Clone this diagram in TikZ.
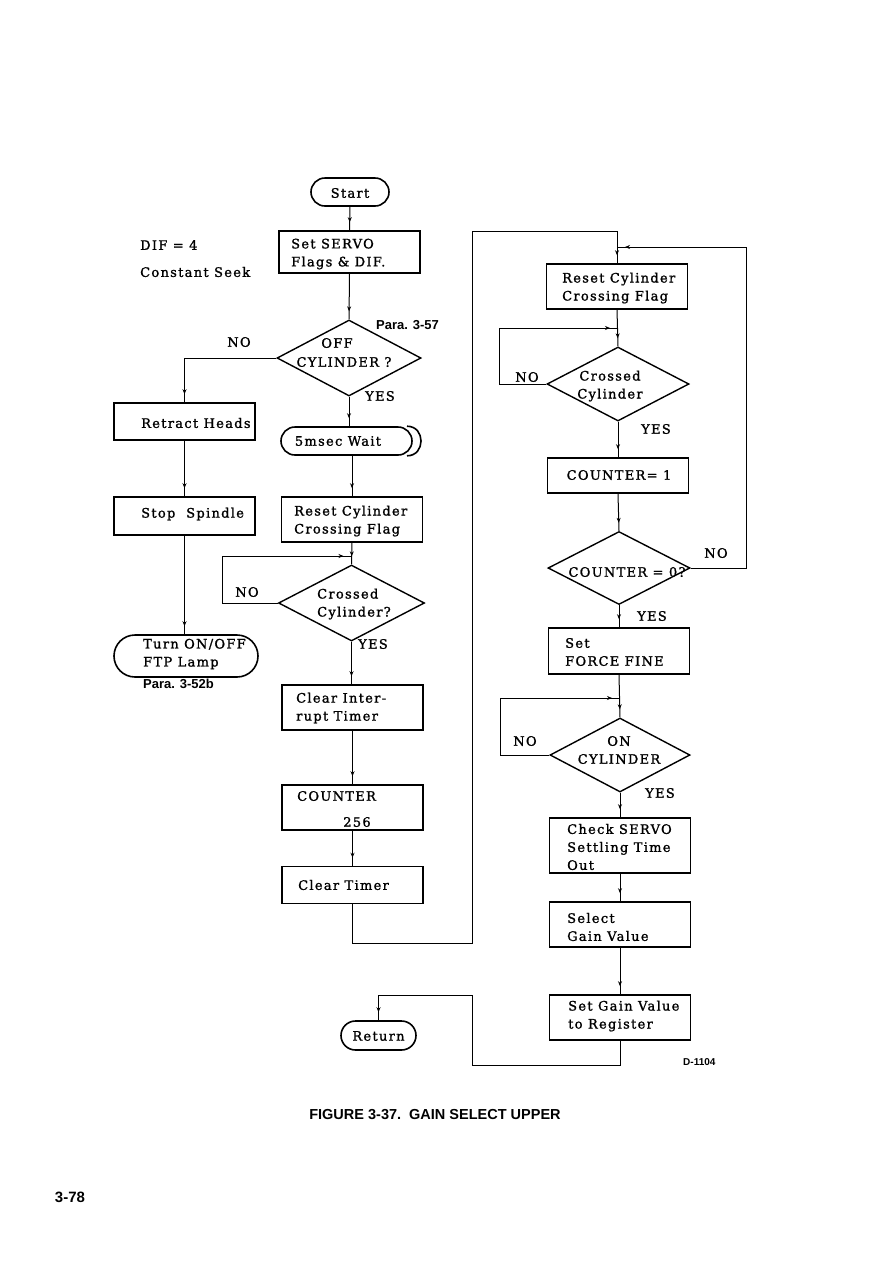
\documentclass[tikz,border=0pt]{standalone}
\usepackage{fontspec}
\setmainfont{DejaVu Serif}
\newfontfamily\bxfont[LetterSpace=10,FakeBold=1.3]{DejaVu Serif}
\newfontfamily\sansf{Liberation Sans}
\usetikzlibrary{shapes.geometric,shapes.misc,arrows.meta,decorations.markings}
\tikzset{
 bx/.style={draw, line width=1.6pt, minimum width=141pt, inner sep=0pt},
 term/.style={draw, rounded rectangle, line width=1.6pt, inner sep=0pt},
 dia/.style={draw, diamond, line width=1.4pt, inner sep=0pt},
 txt/.style={font=\bxfont\fontsize{13}{18}\selectfont, align=left, inner sep=0pt},
 ctxt/.style={txt, align=center},
 lbl/.style={font=\bxfont\fontsize{13}{16}\selectfont, inner sep=0pt},
 para/.style={font=\sansf\bfseries\fontsize{13}{15}\selectfont, inner sep=0pt},
 flow/.style={line width=1pt, postaction={decorate}, decoration={markings, mark=at position -8pt with {\arrow{Stealth[length=5pt,width=4pt]}}}},
}
\begin{document}
\begin{tikzpicture}[x=1pt,y=-1pt]
\fill[white] (0,0) rectangle (893,1262);
\useasboundingbox (0,0) rectangle (893,1262);

% ---------- left / middle column ----------
\node[term, minimum width=78pt, minimum height=28pt] (start) at (350,192) {};
\node[txt] (startt) at (350,193) {Start};
\node[bx, minimum height=42pt] (servo) at (349.5,252) {};
\node[txt, anchor=west] (servot) at (291,254) {Set SERVO\\Flags \& DIF.};
\node[txt, anchor=west] (dif) at (140,245) {DIF = 4};
\node[txt, anchor=west] (cseek) at (140,272) {Constant Seek};

\node[dia, minimum width=144pt, minimum height=76pt] (d1) at (349,358) {};
\node[txt] (d1a) at (337,343) {OFF};
\node[txt] (d1b) at (344,362) {CYLINDER ?};
\node[para, anchor=west] (para1) at (376,325) {Para. 3-57};
\node[lbl] (no1) at (239,342) {NO};
\node[lbl] (yes1) at (380,396) {YES};

\node[bx, minimum height=37pt] (retract) at (184.5,421.5) {};
\node[txt, anchor=west] (retractt) at (141,423) {Retract Heads};
\node[bx, minimum height=38pt] (stop) at (184.5,516) {};
\node[txt, anchor=west] (stopt) at (141,514) {Stop~~Spindle};
\node[term, minimum width=144pt, minimum height=42pt] (lamp) at (186,656) {};
\node[txt, anchor=west] (lampt) at (143,654) {Turn ON/OFF\\FTP Lamp};
\node[para, anchor=west] (para2) at (143,684) {Para. 3-52b};

\node[term, minimum width=131pt, minimum height=28pt] (wait) at (346.5,441) {};
\node[txt] (waitt) at (338,441) {5msec Wait};
\draw[line width=1.6pt] ([xshift=60.5pt]wait.north) .. controls +(18.7,0) and +(18.7,0) .. ([xshift=60.5pt]wait.south);

\node[bx, minimum height=45pt] (reset1) at (352,519.5) {};
\node[txt, anchor=west] (reset1t) at (294,521) {Reset Cylinder\\Crossing Flag};
\node[dia, minimum width=146pt, minimum height=76pt] (d2) at (351.5,603) {};
\node[txt, anchor=west] (d2t) at (317,604) {Crossed\\Cylinder?};
\node[lbl] (no2) at (247,592) {NO};
\node[lbl] (yes2) at (373,644) {YES};

\node[bx, minimum height=45pt] (clearint) at (352.5,707.5) {};
\node[txt, anchor=west] (clearintt) at (296,708) {Clear Inter-\\rupt Timer};
\node[bx, minimum height=45pt] (counter) at (352.5,807.5) {};
\node[txt, anchor=west] (countert) at (297,796) {COUNTER};
\node[txt] (count256) at (357,822) {256};
\node[bx, minimum height=37pt] (cleartimer) at (352.5,885) {};
\node[txt, anchor=west] (cleartimert) at (298,885) {Clear Timer};

% ---------- right column ----------
\node[bx, minimum height=45pt] (reset2) at (617,286.5) {};
\node[txt, anchor=west] (reset2t) at (562,288) {Reset Cylinder\\Crossing Flag};
\node[dia, minimum width=142pt, minimum height=74pt] (d3) at (618,384) {};
\node[ctxt] (d3t) at (610,386) {Crossed\\Cylinder};
\node[lbl] (no3) at (527,377) {NO};
\node[lbl] (yes3) at (656,429) {YES};

\node[bx, minimum height=35pt] (counter1) at (618,475.5) {};
\node[txt] (counter1t) at (619,475) {COUNTER= 1};
\node[dia, minimum width=142pt, minimum height=73pt] (d4) at (619,568) {};
\node[txt] (d4t) at (627,572) {COUNTER = 0?};
\node[lbl] (no4) at (716,553) {NO};
\node[lbl] (yes4) at (652,616) {YES};

\node[bx, minimum height=46pt] (force) at (619,651) {};
\node[txt, anchor=west] (forcet) at (565,652) {Set\\FORCE FINE};
\node[dia, minimum width=140pt, minimum height=74pt] (d5) at (620,755) {};
\node[ctxt] (d5t) at (619,750) {ON\\CYLINDER};
\node[lbl] (no5) at (525,741) {NO};
\node[lbl] (yes5) at (660,793) {YES};

\node[bx, minimum height=55pt] (check) at (620,845.5) {};
\node[txt, anchor=west] (checkt) at (567,847) {Check SERVO\\Settling Time\\Out};
\node[bx, minimum height=45pt] (select) at (620,924.5) {};
\node[txt, anchor=west] (selectt) at (567,927) {Select\\Gain Value};
\node[bx, minimum height=45pt] (setgain) at (620,1017.5) {};
\node[txt, anchor=west] (setgaint) at (568,1016) {Set Gain Value\\to Register};

\node[term, minimum width=75pt, minimum height=29pt] (ret) at (378.5,1035.5) {};
\node[txt] (rett) at (378.5,1036) {Return};

\node[font=\sansf\bfseries\fontsize{10}{12}\selectfont, anchor=west, inner sep=0pt] (dnum) at (683,1062) {D-1104};
\node[font=\sansf\bfseries\fontsize{14.5}{16}\selectfont, inner sep=0pt] (caption) at (435,1115) {FIGURE 3-37.~~GAIN SELECT UPPER};
\node[font=\sansf\bfseries\fontsize{15}{17}\selectfont, inner sep=0pt] (page) at (70,1197) {3-78};

% ---------- helper coordinates ----------
\coordinate (lp1) at (222,556);
\coordinate (lp2) at (499,328);
\coordinate (lp3) at (500,698);
\coordinate (c1) at (472,943);
\coordinate (c2) at (472,231);
\coordinate (c3) at (746,247);
\coordinate (c4) at (472,1065);
\coordinate (c5) at (472,995);

% ---------- connectors ----------
\draw[flow] (start.south) -- (servo.north);
\draw[flow] (servo.south) -- (d1.north);
\draw[flow] (d1.west) -| (retract.north);
\draw[flow] (retract.south) -- (stop.north);
\draw[flow] (stop.south) -- (stop.south |- lamp.north);
\draw[flow] (d1.south) -- (d1.south |- wait.north);
\draw[flow] (reset1.north |- wait.south) -- (reset1.north);
\draw[flow] (reset1.south) -- (d2.north);
\draw[flow] (d2.west) -| (lp1) -- (lp1 -| d2.north);
\draw[flow] (d2.south) -- (d2.south |- clearint.north);
\draw[flow] (clearint.south) -- (counter.north);
\draw[flow] (counter.south) -- (cleartimer.north);
\draw[flow] (cleartimer.south) |- (c1) -- (c2) -| (reset2.north);
\draw[flow] (d4.east) -| (c3) -- (c3 -| reset2.north);
\draw[flow] (reset2.south) -- (d3.north);
\draw[flow] (d3.west) -| (lp2) -- (lp2 -| d3.north);
\draw[flow] (d3.south) -- (counter1.north);
\draw[flow] (counter1.south) -- (d4.north);
\draw[flow] (d4.south) -- (force.north);
\draw[flow] (force.south) -- (d5.north);
\draw[flow] (d5.west) -| (lp3) -- (lp3 -| d5.north);
\draw[flow] (d5.south) -- (check.north);
\draw[flow] (check.south) -- (select.north);
\draw[flow] (select.south) -- (setgain.north);
\draw[flow] (setgain.south) |- (c4) -- (c5) -| (ret.north);
\end{tikzpicture}
\end{document}
